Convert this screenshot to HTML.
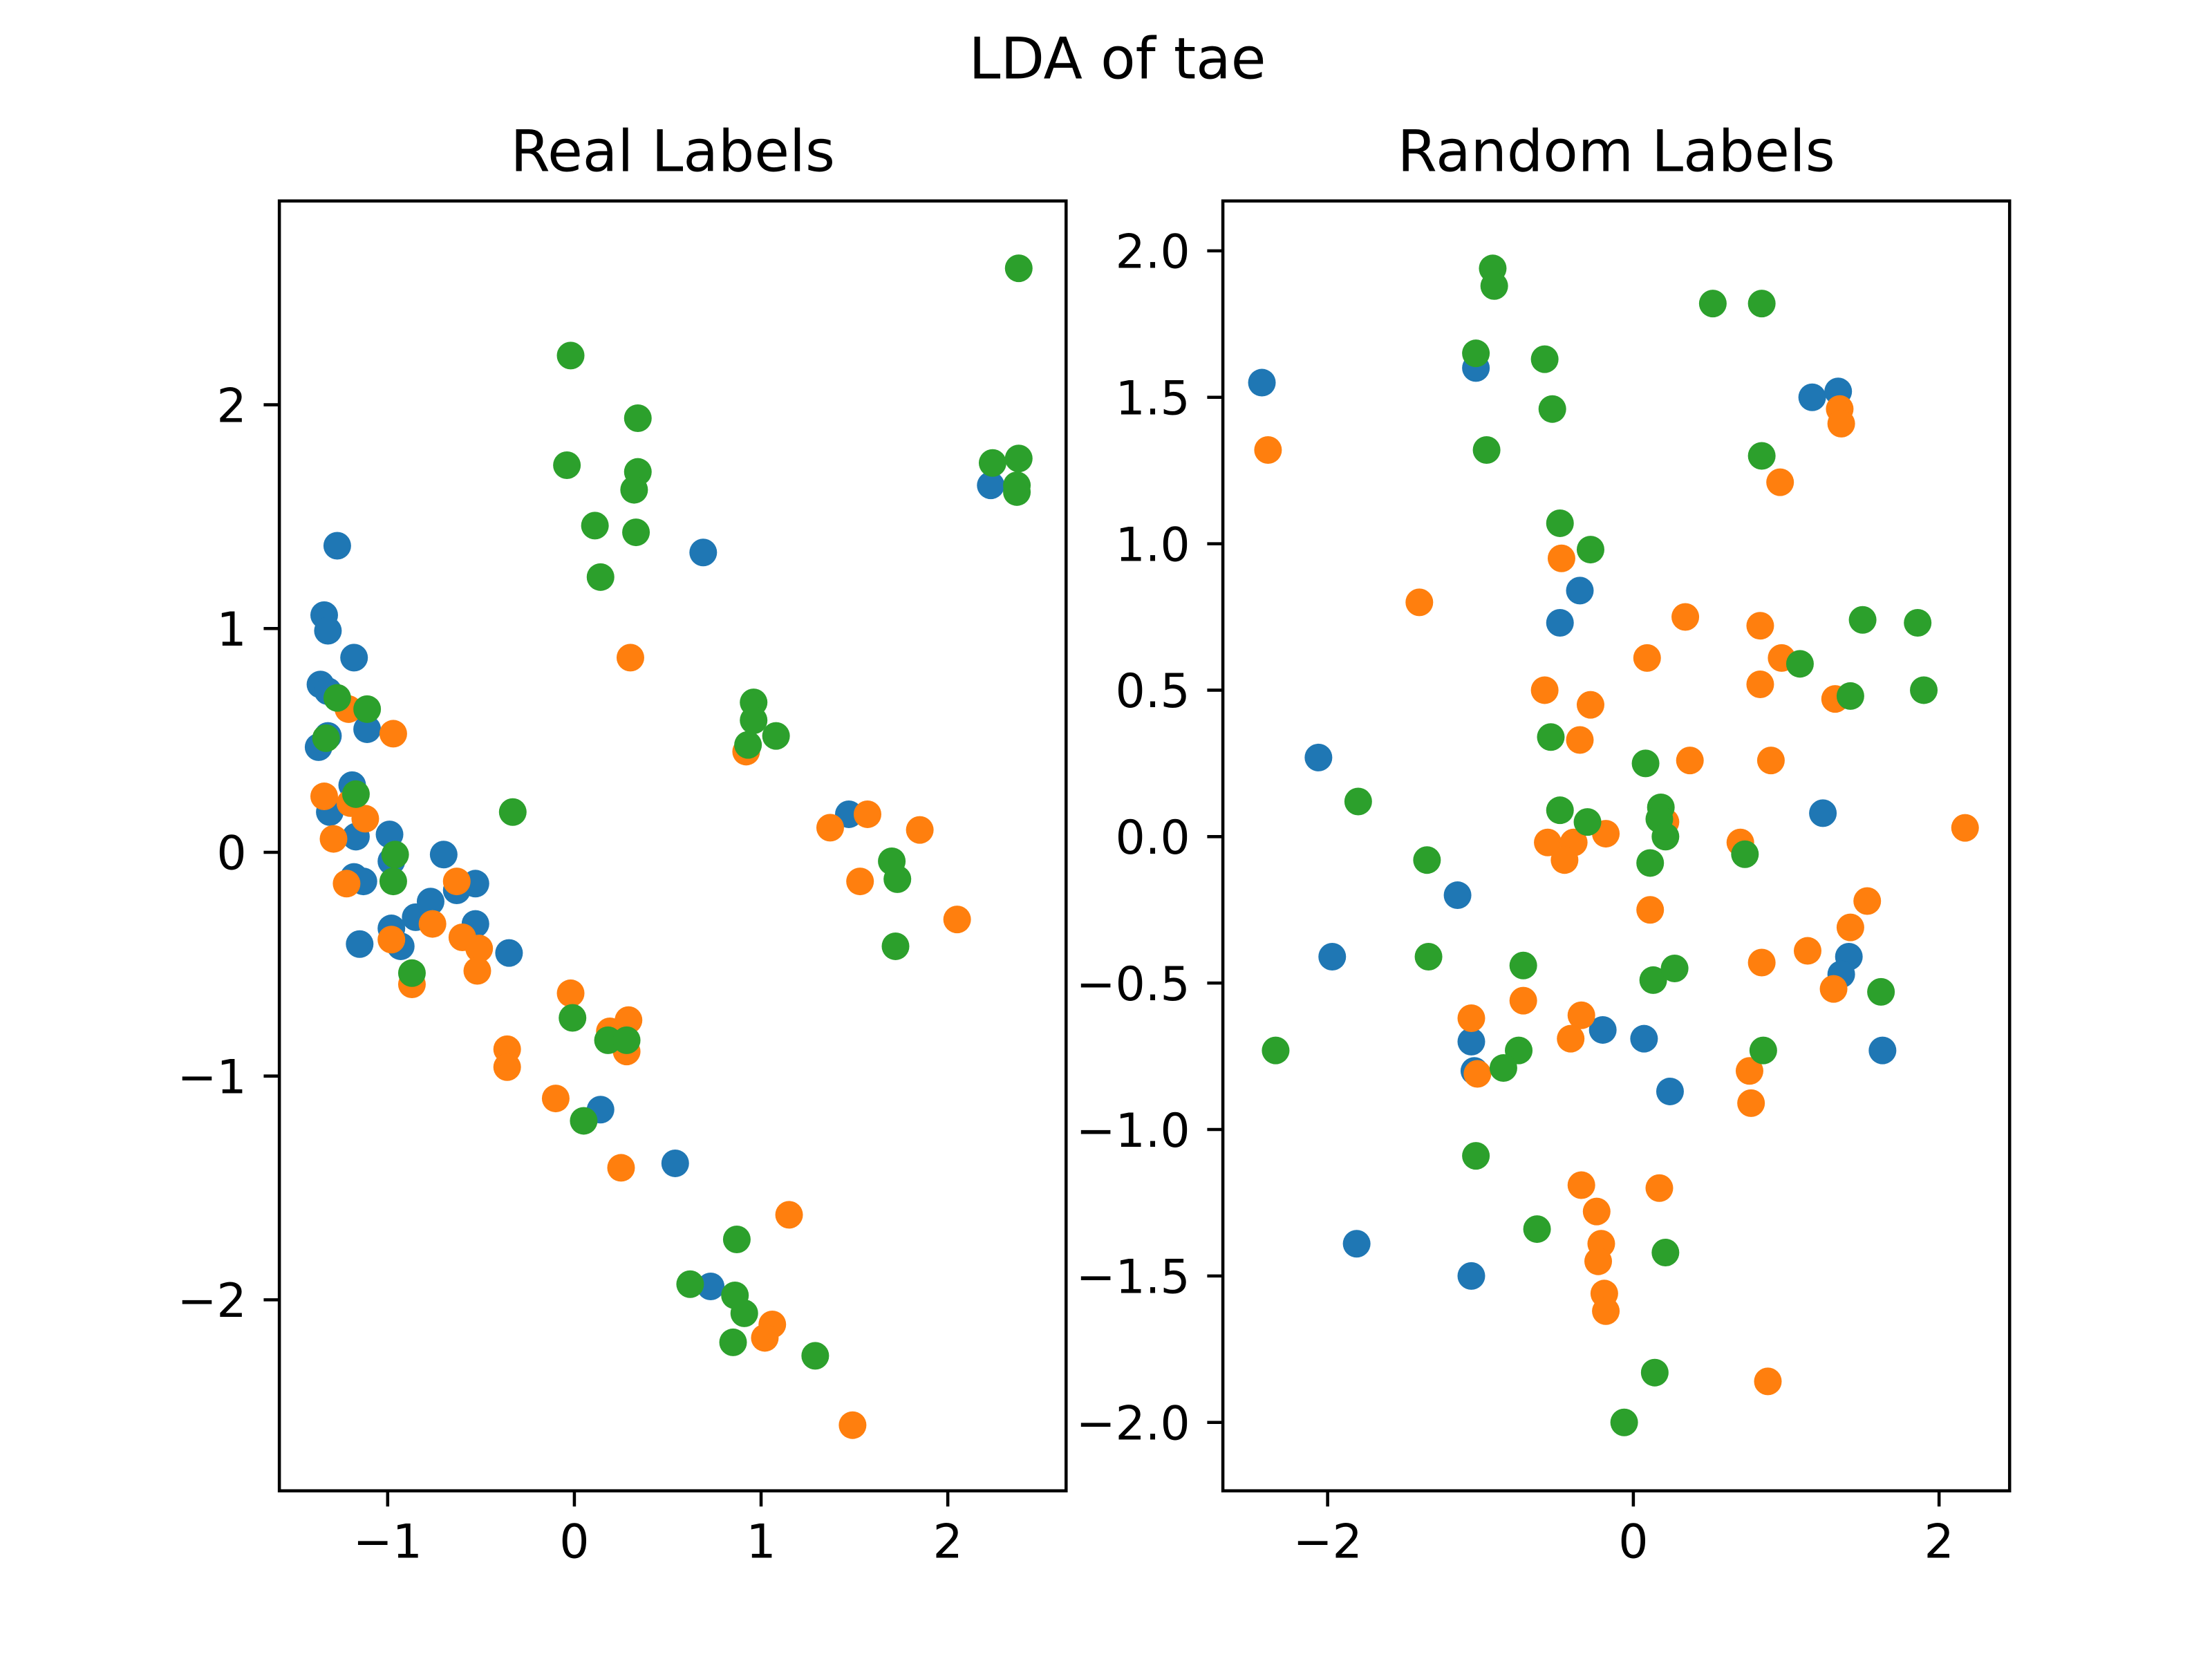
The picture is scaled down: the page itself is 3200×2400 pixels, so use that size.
<!DOCTYPE html>
<html><head><meta charset="utf-8"><style>
html,body{margin:0;padding:0;background:#fff;}
svg{display:block;}
text{font-family:"DejaVu Sans","Liberation Sans",sans-serif;fill:#000;}
</style></head><body>
<svg id="fig" width="3200" height="2400" viewBox="0 0 1552 1164" xmlns="http://www.w3.org/2000/svg">
<rect width="1552" height="1164" fill="#fff"/>
<text x="784" y="55" font-size="40" text-anchor="middle">LDA of tae</text>
<g id="p1"></g>
<g id="p2"></g>
</svg>
<script>
// Real Labels data
const realBlueX=[-1.27,-1.34,-1.32,-1.18,-1.36,-1.32,-1.32,-1.37,-1.11,-1.19,-1.31,-1.17,-0.99,-1.18,-1.13,-0.98,-0.70,-1.15,-0.98,-0.93,-0.85,-0.77,-0.63,-0.53,-0.53,-0.35,0.14,0.54,0.73,0.69,1.47,2.23];
const realBlueY=[1.37,1.06,0.99,0.87,0.75,0.72,0.52,0.47,0.55,0.30,0.18,0.07,0.08,-0.11,-0.13,-0.04,-0.01,-0.41,-0.34,-0.42,-0.29,-0.22,-0.17,-0.14,-0.32,-0.45,-1.15,-1.39,-1.94,1.34,0.17,1.64];
const realOrangeX=[-1.21,-0.97,-1.34,-1.20,-1.12,-1.29,-1.22,-0.98,-0.87,-0.76,-0.63,-0.60,-0.51,-0.52,-0.36,-0.36,-0.02,-0.10,0.19,0.29,0.28,0.25,0.30,0.92,1.15,1.06,1.02,1.49,1.37,1.57,1.53,1.85,2.05];
const realOrangeY=[0.64,0.53,0.25,0.22,0.15,0.06,-0.14,-0.39,-0.59,-0.32,-0.13,-0.38,-0.43,-0.53,-0.88,-0.96,-0.63,-1.10,-0.80,-0.75,-0.89,-1.41,0.87,0.45,-1.62,-2.11,-2.17,-2.56,0.11,0.17,-0.13,0.10,-0.30];
const realGreenX=[-1.27,-1.33,-1.11,-1.17,-0.96,-0.97,-0.87,-0.33,-0.02,-0.04,0.34,0.34,0.32,0.11,0.33,0.14,-0.01,0.18,0.28,0.05,0.96,0.96,0.93,1.08,0.87,0.62,0.86,0.91,0.85,1.29,1.70,1.73,1.72,2.38,2.24,2.38,2.37,2.37];
const realGreenY=[0.69,0.51,0.64,0.26,-0.01,-0.13,-0.54,0.18,2.22,1.73,1.94,1.70,1.62,1.46,1.43,1.23,-0.74,-0.84,-0.84,-1.20,0.67,0.59,0.48,0.52,-1.73,-1.93,-1.98,-2.06,-2.19,-2.25,-0.04,-0.12,-0.42,2.61,1.74,1.76,1.64,1.61];
// Random Labels data
const randBlueX=[-2.43,-1.03,1.17,1.34,-0.35,-0.48,-2.06,1.24,-1.15,-1.97,1.41,1.36,-1.06,-1.04,-0.20,0.07,0.24,1.63,-1.81,-1.06];
const randBlueY=[1.55,1.60,1.50,1.52,0.84,0.73,0.27,0.08,-0.20,-0.41,-0.41,-0.47,-0.70,-0.80,-0.66,-0.69,-0.87,-0.73,-1.39,-1.50];
const randOrangeX=[-2.39,1.35,1.36,0.96,-0.47,-1.40,0.34,0.83,0.09,0.97,-0.58,0.83,1.32,-0.28,-0.35,0.37,0.90,2.17,0.21,-0.18,-0.56,-0.39,-0.45,0.70,0.11,1.53,1.42,1.14,0.84,1.31,-0.72,-1.06,-0.34,-0.41,0.76,-1.02,0.77,-0.34,0.17,-0.24,-0.21,-0.23,-0.19,-0.18,0.88];
const randOrangeY=[1.32,1.46,1.41,1.21,0.95,0.80,0.75,0.72,0.61,0.61,0.50,0.52,0.47,0.45,0.33,0.26,0.26,0.03,0.05,0.01,-0.02,-0.02,-0.08,-0.02,-0.25,-0.22,-0.31,-0.39,-0.43,-0.52,-0.56,-0.62,-0.61,-0.69,-0.80,-0.81,-0.91,-1.19,-1.20,-1.28,-1.39,-1.45,-1.56,-1.62,-1.86];
const randGreenX=[-0.92,-0.91,0.52,0.84,-1.03,-0.58,-0.53,-0.96,0.84,-0.48,-0.28,1.50,1.86,1.09,1.42,1.90,-0.54,0.08,-1.80,0.18,-0.48,-0.30,0.17,0.21,-1.35,0.11,0.73,-1.34,-0.72,0.13,0.27,1.62,-2.34,-0.75,-0.85,0.85,-1.03,-0.63,0.21,0.14,-0.06];
const randGreenY=[1.94,1.88,1.82,1.82,1.65,1.63,1.46,1.32,1.30,1.07,0.98,0.74,0.73,0.59,0.48,0.50,0.34,0.25,0.12,0.10,0.09,0.05,0.06,0.00,-0.08,-0.09,-0.06,-0.41,-0.44,-0.49,-0.45,-0.53,-0.73,-0.73,-0.79,-0.73,-1.09,-1.34,-1.42,-1.83,-2.00];
// ticks
const p1XTicks=[-1,0,1,2];
const p1XTickLabels=["\u22121","0","1","2"];
const p1YTicks=[-2,-1,0,1,2];
const p1YTickLabels=["\u22122","\u22121","0","1","2"];
const p2XTicks=[-2,0,2];
const p2XTickLabels=["\u22122","0","2"];
const p2YTicks=[-2,-1.5,-1,-0.5,0,0.5,1,1.5,2];
const p2YTickLabels=["\u22122.0","\u22121.5","\u22121.0","\u22120.5","0.0","0.5","1.0","1.5","2.0"];

const NS="http://www.w3.org/2000/svg";
function mk(tag,attrs,parent){const e=document.createElementNS(NS,tag);for(const k in attrs)e.setAttribute(k,attrs[k]);parent.appendChild(e);return e;}

function panel(g,box,xs,ys,title,xt,xtl,yt,ytl,series,prefix){
  const sx=v=>xs.p0+(v-xs.v0)*xs.k, sy=v=>ys.p0-(v-ys.v0)*ys.k;
  const t=mk('text',{x:(box.x0+box.x1)/2,y:120,'font-size':40,'text-anchor':'middle'},g);
  t.textContent=title;
  
  
  const cols=['#1f77b4','#ff7f0e','#2ca02c'];
  const names=['class-0','class-1','class-2'];
  series.forEach((s,si)=>{
    for(let i=0;i<s[0].length;i++){
      const c=mk('circle',{cx:sx(s[0][i]),cy:sy(s[1][i]),r:9.7,fill:cols[si]},g);
      
      
    }
  });
  const r=mk('rect',{x:box.x0,y:box.y0,width:box.x1-box.x0,height:box.y1-box.y0,fill:'none',stroke:'#000','stroke-width':2.2},g);
  
  
  xt.forEach((v,i)=>{
    const x=sx(v);
    const l=mk('line',{x1:x,x2:x,y1:box.y1,y2:box.y1+11,stroke:'#000','stroke-width':2.2},g);
    
    
    const tx=mk('text',{x:x,y:box.y1+47,'font-size':33,'text-anchor':'middle'},g);
    tx.textContent=xtl[i];
    
    
  });
  yt.forEach((v,i)=>{
    const y=sy(v);
    const l=mk('line',{x1:box.x0-11,x2:box.x0,y1:y,y2:y,stroke:'#000','stroke-width':2.2},g);
    
    
    const tx=mk('text',{x:box.x0-23,y:y+12,'font-size':33,'text-anchor':'end'},g);
    tx.textContent=ytl[i];
    
    
  });
}
panel(document.getElementById('p1'),{x0:196,x1:748,y0:141,y1:1046},{p0:403,v0:0,k:131},{p0:598,v0:0,k:157},
  'Real Labels',p1XTicks,p1XTickLabels,p1YTicks,p1YTickLabels,
  [[realBlueX,realBlueY],[realOrangeX,realOrangeY],[realGreenX,realGreenY]],'real');
panel(document.getElementById('p2'),{x0:858,x1:1410,y0:141,y1:1046},{p0:1146,v0:0,k:107.25},{p0:587,v0:0,k:205.5},
  'Random Labels',p2XTicks,p2XTickLabels,p2YTicks,p2YTickLabels,
  [[randBlueX,randBlueY],[randOrangeX,randOrangeY],[randGreenX,randGreenY]],'random');
</script>
</body></html>
